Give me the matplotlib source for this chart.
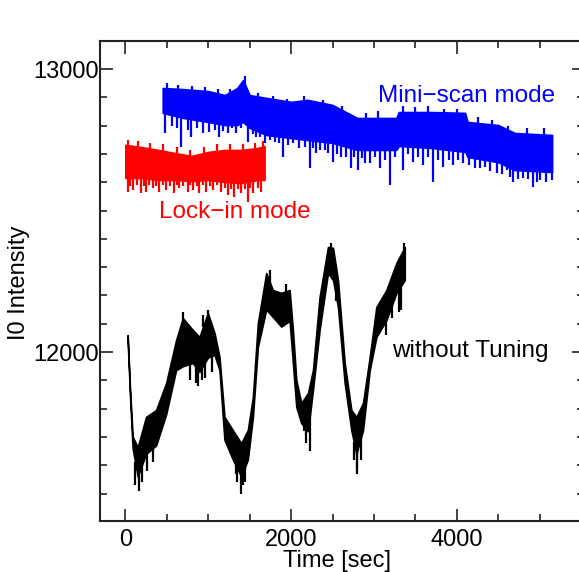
import matplotlib
matplotlib.use("Agg")
import matplotlib.pyplot as plt
import numpy as np
from matplotlib.ticker import MultipleLocator

plt.rcParams['font.family'] = ['Liberation Sans', 'DejaVu Sans']

# without tuning (black): time, upper and lower edge of the noise band
t_free = [28, 57, 88, 149, 250, 371, 492, 612, 693, 814, 894, 995, 1076, 1136,
          1196, 1297, 1398, 1478, 1539, 1599, 1700, 1780, 1881, 1982, 2022, 2063,
          2123, 2204, 2264, 2344, 2445, 2506, 2566, 2647, 2727, 2788, 2868, 2949,
          3029, 3150, 3271, 3372]
hi_free = [12060, 11866, 11701, 11664, 11771, 11795, 11890, 12042, 12120, 12078,
           12053, 12138, 12067, 11982, 11771, 11724, 11678, 11724, 11841, 12102,
           12279, 12219, 12209, 12219, 12078, 11901, 11820, 11855, 11936, 12194,
           12371, 12368, 12254, 11961, 11795, 11771, 11820, 11982, 12159, 12219,
           12315, 12371]
lo_free = [12040, 11840, 11660, 11560, 11640, 11670, 11780, 11936, 11950, 11961,
           11930, 11980, 11990, 11936, 11690, 11620, 11560, 11620, 11770, 12018,
           12150, 12124, 12090, 12110, 11961, 11806, 11749, 11720, 11866, 12078,
           12279, 12254, 12159, 11890, 11724, 11640, 11724, 11936, 12053, 12113,
           12209, 12254]
dn_free_t = [120, 160, 200, 260, 330, 780, 850, 880, 930, 960, 1050, 1330, 1350,
             1400, 1420, 1440, 2150, 2180, 2230, 2540, 2760, 2790, 2800, 2840,
             3140, 3220, 3300, 3330]
dn_free_v = [11530, 11510, 11540, 11580, 11610, 11900, 11890, 11880, 11900, 11910,
             11930, 11570, 11540, 11500, 11530, 11540, 11720, 11680, 11650, 12180,
             11620, 11570, 11590, 11620, 12060, 12120, 12140, 12150]
up_free_t = [690, 940, 1000, 1750, 1940, 2480, 3360]
up_free_v = [12140, 12130, 12150, 12290, 12240, 12385, 12385]

# lock-in mode (red)
t_lock = [0, 200, 400, 600, 800, 1000, 1200, 1400, 1600, 1680]
hi_lock = [12732, 12724, 12714, 12703, 12693, 12707, 12714, 12714, 12721, 12728]
lo_lock = [12615, 12615, 12608, 12608, 12604, 12608, 12601, 12597, 12608, 12608]
dn_lock_t = [28, 60, 88, 140, 189, 220, 250, 290, 330, 370, 411, 450, 491, 540,
             592, 620, 653, 700, 753, 780, 814, 860, 894, 940, 975, 1020, 1055,
             1100, 1156, 1200, 1237, 1280, 1317, 1360, 1398, 1440, 1478, 1510,
             1539, 1600, 1640]
dn_lock_v = [12566, 12585, 12572, 12590, 12561, 12585, 12566, 12590, 12579, 12585,
             12566, 12590, 12572, 12585, 12561, 12590, 12579, 12585, 12566, 12590,
             12572, 12585, 12561, 12590, 12566, 12585, 12572, 12590, 12566, 12580,
             12555, 12575, 12549, 12575, 12561, 12575, 12531, 12580, 12561, 12580,
             12566]
up_lock_t = [30, 150, 300, 450, 620, 780, 950, 1100, 1260, 1420, 1560, 1660]
up_lock_v = [12750, 12745, 12740, 12735, 12725, 12715, 12725, 12735, 12735, 12735,
             12740, 12745]

# mini-scan mode (blue)
t_mini = [451, 700, 1000, 1200, 1350, 1420, 1500, 1700, 2000, 2200, 2500, 2800,
          3100, 3270, 3300, 3700, 4100, 4130, 4500, 4700, 5150]
hi_mini = [12933, 12929, 12922, 12908, 12933, 12961, 12908, 12898, 12884, 12891,
           12873, 12827, 12827, 12827, 12848, 12848, 12845, 12813, 12802, 12774,
           12767]
lo_mini = [12845, 12827, 12813, 12802, 12802, 12813, 12792, 12767, 12756, 12749,
           12739, 12714, 12714, 12714, 12728, 12721, 12707, 12689, 12671, 12643,
           12636]
dn_mini_t = [480, 560, 620, 673, 750, 794, 860, 935, 1015, 1080, 1136, 1180, 1237,
             1290, 1338, 1400, 1478, 1540, 1579, 1630, 1680, 1740, 1801, 1850,
             1901, 1960, 2022, 2090, 2163, 2224, 2260, 2304, 2350, 2405, 2450,
             2506, 2560, 2607, 2660, 2727, 2760, 2808, 2850, 2888, 2949, 3010,
             3070, 3130, 3190, 3250, 3351, 3410, 3472, 3530, 3593, 3650, 3714,
             3770, 3835, 3900, 3955, 4020, 4076, 4150, 4218, 4280, 4339, 4400,
             4480, 4540, 4601, 4640, 4681, 4740, 4802, 4860, 4922, 4970, 5003,
             5080, 5145]
dn_mini_v = [12773, 12800, 12790, 12726, 12785, 12761, 12790, 12773, 12779, 12785,
             12761, 12780, 12773, 12790, 12773, 12790, 12743, 12770, 12761, 12760,
             12738, 12750, 12743, 12740, 12690, 12730, 12738, 12720, 12726, 12649,
             12720, 12702, 12715, 12714, 12705, 12673, 12700, 12690, 12690, 12649,
             12690, 12643, 12685, 12667, 12667, 12690, 12649, 12680, 12590, 12690,
             12643, 12700, 12673, 12690, 12661, 12690, 12602, 12680, 12655, 12680,
             12661, 12680, 12667, 12660, 12649, 12650, 12655, 12640, 12632, 12630,
             12643, 12620, 12602, 12610, 12614, 12610, 12584, 12600, 12608, 12600,
             12608]
up_mini_t = [500, 640, 800, 960, 1120, 1260, 1440, 1600, 1780, 1950, 2150, 2380,
             2620, 2900, 3050, 3350, 3500, 3650, 3850, 4000, 4250, 4420, 4620,
             4850, 5050]
up_mini_v = [12950, 12945, 12940, 12935, 12930, 12930, 12975, 12915, 12905, 12895,
             12905, 12890, 12870, 12845, 12850, 12870, 12865, 12870, 12860, 12860,
             12830, 12820, 12800, 12790, 12790]


def draw(ax, t, hi, lo, dn_t, dn_v, up_t, up_v, color):
    ax.fill_between(t, lo, hi, color=color, lw=1.2, edgecolor=color)
    # spikes hang from the band edges out to the read value
    ax.vlines(dn_t, dn_v, np.interp(dn_t, t, lo) + 5, color=color, lw=1.6)
    ax.vlines(up_t, np.interp(up_t, t, hi) - 5, up_v, color=color, lw=1.6)


fig = plt.figure(figsize=(5.79, 5.72), dpi=100)
ax = fig.add_axes([100 / 579, 1 - 521 / 572, 484 / 579, 480 / 572])

draw(ax, t_free, hi_free, lo_free, dn_free_t, dn_free_v, up_free_t, up_free_v, 'black')
draw(ax, t_lock, hi_lock, lo_lock, dn_lock_t, dn_lock_v, up_lock_t, up_lock_v, 'red')
draw(ax, t_mini, hi_mini, lo_mini, dn_mini_t, dn_mini_v, up_mini_t, up_mini_v, 'blue')

ax.text(5185, 12905, 'Mini\u2212scan mode', color='blue', fontsize=17.5,
        ha='right', va='center')
ax.text(411, 12495, 'Lock\u2212in mode', color='red', fontsize=17.5,
        ha='left', va='center')
ax.text(3215, 12004, 'without Tuning', color='black', fontsize=17.5,
        ha='left', va='center')

ax.set_xlim(-306, 5535)
ax.set_ylim(11403, 13099)
ax.xaxis.set_major_locator(MultipleLocator(2000))
ax.xaxis.set_minor_locator(MultipleLocator(500))
ax.yaxis.set_major_locator(MultipleLocator(1000))
ax.yaxis.set_minor_locator(MultipleLocator(100))
ax.tick_params(which='both', direction='in', top=True, right=True,
               labelsize=17, width=1.2, color='#222222')
ax.tick_params(which='major', length=9)
ax.tick_params(which='minor', length=5)
ax.tick_params(axis='x', pad=6)
ax.tick_params(axis='y', pad=1)
for s in ax.spines.values():
    s.set_linewidth(1.5)
    s.set_color('#222222')

ax.set_xlabel('Time [sec]', fontsize=17)
ax.set_ylabel('I0 Intensity', fontsize=17)
ax.xaxis.set_label_coords((337 - 100) / 484, -(550 - 521) / 480)
ax.yaxis.set_label_coords(-(100 - 30) / 484, (521 - 283) / 480)

fig.savefig('out.png', dpi=100)
